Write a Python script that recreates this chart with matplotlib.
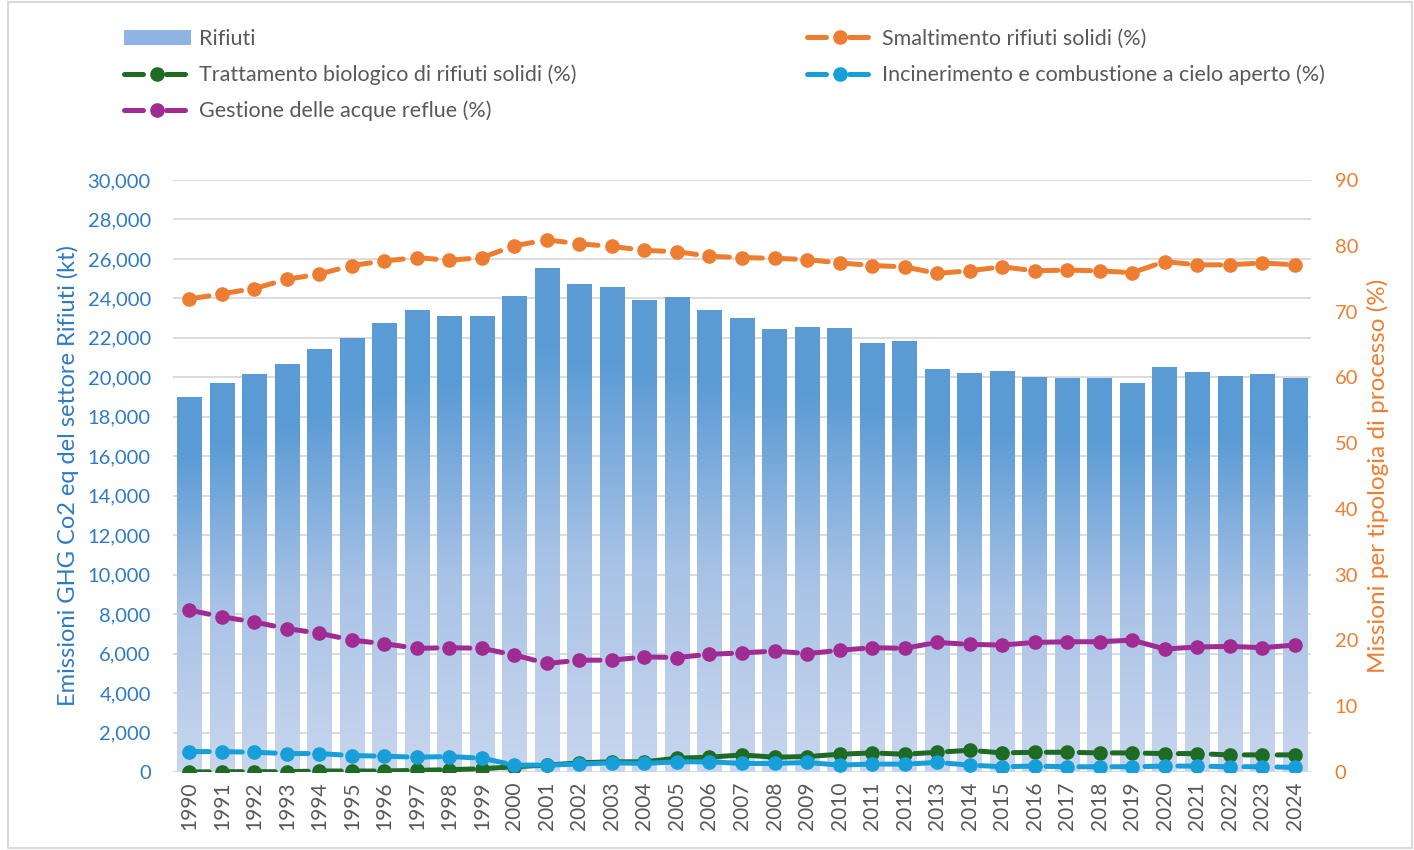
import numpy as np
import matplotlib
matplotlib.use("Agg")
import matplotlib.pyplot as plt
from matplotlib.lines import Line2D
from matplotlib.patches import Patch, Rectangle
from matplotlib.colors import LinearSegmentedColormap
from matplotlib.ticker import FuncFormatter, MultipleLocator

plt.rcParams['font.family'] = ['Lato', 'DejaVu Sans']

years = [str(y) for y in range(1990, 2025)]
rifiuti = [19000, 19700, 20150, 20650, 21400, 21950, 22750, 23400, 23100, 23100,
           24100, 25500, 24700, 24550, 23900, 24050, 23400, 23000, 22400, 22550,
           22450, 21700, 21800, 20400, 20200, 20300, 20000, 19950, 19950, 19700,
           20500, 20250, 20050, 20150, 19950]
smaltimento = [71.9, 72.7, 73.5, 74.9, 75.7, 77.0, 77.7, 78.2, 77.8, 78.2,
               80.0, 80.9, 80.3, 79.9, 79.3, 79.1, 78.4, 78.2, 78.1, 77.9,
               77.4, 77.0, 76.8, 75.8, 76.2, 76.8, 76.2, 76.3, 76.2, 75.9,
               77.6, 77.1, 77.1, 77.4, 77.1]
trattamento = [0.0, 0.05, 0.05, 0.05, 0.15, 0.15, 0.15, 0.25, 0.35, 0.5,
               0.8, 1.05, 1.4, 1.55, 1.55, 2.1, 2.25, 2.6, 2.25, 2.35,
               2.7, 2.9, 2.7, 3.0, 3.3, 2.9, 3.0, 3.0, 2.9, 2.9,
               2.8, 2.8, 2.6, 2.6, 2.6]
incinerimento = [3.1, 3.1, 3.0, 2.8, 2.8, 2.5, 2.4, 2.25, 2.35, 2.1,
                 1.05, 1.05, 1.2, 1.4, 1.3, 1.55, 1.55, 1.3, 1.3, 1.45,
                 1.05, 1.2, 1.2, 1.45, 1.05, 0.8, 0.9, 0.8, 0.8, 0.8,
                 0.9, 0.9, 0.8, 0.8, 0.7]
acque = [24.6, 23.6, 22.8, 21.8, 21.1, 20.05, 19.5, 18.8, 18.9, 18.8,
         17.8, 16.5, 17.0, 17.0, 17.5, 17.4, 17.9, 18.1, 18.4, 18.0,
         18.5, 18.9, 18.8, 19.7, 19.4, 19.3, 19.7, 19.8, 19.8, 20.05,
         18.7, 19.0, 19.1, 18.9, 19.3]

line_series = [
    ("Smaltimento rifiuti solidi (%)", smaltimento, "#ED7D31"),
    ("Trattamento biologico di rifiuti solidi (%)", trattamento, "#1E6B24"),
    ("Incinerimento e combustione a cielo aperto (%)", incinerimento, "#169FD8"),
    ("Gestione delle acque reflue (%)", acque, "#A02B93"),
]

W, H = 1414, 850
fig = plt.figure(figsize=(W / 100, H / 100), dpi=100)
ax = fig.add_axes([173 / W, 1 - 772 / H, (1311 - 173) / W, (772 - 180) / H])
ax2 = ax.twinx()

x = np.arange(len(years))
bw = 0.75
bars = ax.bar(x, rifiuti, width=bw, color='none', edgecolor='none', zorder=2)
cmap = LinearSegmentedColormap.from_list('g', ['#C8D6EE', '#A9C3E6', '#5B9BD5'])
grad = np.linspace(0, 1, 256).reshape(-1, 1)
grad = np.clip(grad / 0.85, 0, 1)
for b in bars:
    x0 = b.get_x(); h = b.get_height()
    ax.imshow(grad, extent=[x0, x0 + bw, 0, h], origin='lower', aspect='auto',
              cmap=cmap, vmin=0, vmax=1, zorder=2, interpolation='bilinear')

ax.set_xlim(-0.5, len(years) - 0.5)
ax.set_ylim(0, 30000)
ax.yaxis.set_major_locator(MultipleLocator(2000))
ax.yaxis.set_major_formatter(FuncFormatter(lambda v, p: f"{int(v):,}"))
ax.grid(axis='y', color='#D9D9D9', linewidth=1.3, zorder=0)
ax.set_axisbelow(True)
ax.set_xticks(x)
ax.set_xticklabels(years, rotation=90, color='#595959', fontsize=15)
ax.tick_params(axis='x', length=0, pad=7)
ax.tick_params(axis='y', length=0, pad=16, labelcolor='#2E7BC4', labelsize=14.5)
for s in ax.spines.values():
    s.set_visible(False)
ax.set_ylabel("Emissioni GHG Co2 eq del settore Rifiuti (kt)", color='#2E7BC4',
              fontsize=17, labelpad=6)

lw = 3.6
for name, vals, col in line_series:
    ax2.plot(x, vals, color=col, linewidth=lw, dashes=(4, 2.6), marker='o',
             markersize=9.5, solid_capstyle='round', dash_capstyle='round', zorder=3)
ax2.set_ylim(0, 90)
ax2.yaxis.set_major_locator(MultipleLocator(10))
ax2.tick_params(axis='y', length=0, pad=17, labelcolor='#ED7D31', labelsize=14.5)
for s in ax2.spines.values():
    s.set_visible(False)
ax2.set_ylabel("Missioni per tipologia di processo (%)", color='#ED7D31',
               fontsize=17.5, labelpad=6)

# legend
def lh(col):
    return Line2D([], [], color=col, linewidth=lw, marker='o', markersize=9.5,
                  dashes=(3.8, 4.6), dash_capstyle='round')

bar_handle = Patch(facecolor='#8DB4E2', edgecolor='none')
leg_kw = dict(frameon=False, fontsize=15.5, labelcolor='#595959', handlelength=3.1,
              labelspacing=0.72, handletextpad=0.4, borderaxespad=0, borderpad=0)
leg1 = fig.legend([bar_handle, lh("#1E6B24"), lh("#A02B93")],
                  ["Rifiuti", line_series[1][0], line_series[3][0]],
                  loc='upper left', bbox_to_anchor=(124 / W, 1 - 29 / H), **leg_kw)
leg2 = fig.legend([lh("#ED7D31"), lh("#169FD8")],
                  [line_series[0][0], line_series[2][0]],
                  loc='upper left', bbox_to_anchor=(807 / W, 1 - 29 / H), **leg_kw)

fig.patches.append(Rectangle((8 / W, 2 / H), 1 - 10 / W, 1 - 4 / H, transform=fig.transFigure,
                             fill=False, edgecolor='#D9D9D9', linewidth=1.5))

fig.savefig("out.png", dpi=100)
